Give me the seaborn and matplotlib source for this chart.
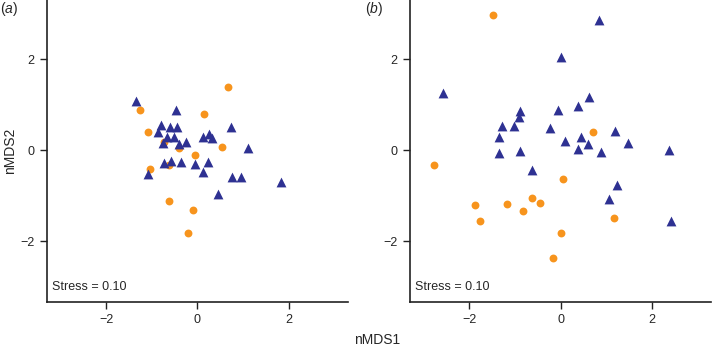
import pandas as pd
import matplotlib
matplotlib.use("Agg")
import matplotlib.pyplot as plt
import seaborn as sns

# --- Panel (a) site scores ---
a_tri_x = [-1.35, -0.47, -0.79, -0.60, -0.44, -0.87, -0.67, -0.52, -0.76, -0.41,
           -0.25, 0.12, 0.26, 0.32, 0.73, 1.10, -1.07, -0.73, -0.57, -0.36,
           -0.06, 0.23, 0.12, 0.75, 0.95, 0.45, 1.83]
a_tri_y = [1.07, 0.89, 0.56, 0.50, 0.50, 0.40, 0.30, 0.29, 0.15, 0.13,
           0.17, 0.30, 0.35, 0.26, 0.52, 0.04, -0.52, -0.28, -0.24, -0.26,
           -0.31, -0.26, -0.48, -0.60, -0.60, -0.96, -0.69]
a_cir_x = [0.68, -1.26, 0.15, -1.07, -0.74, -0.41, 0.55, -0.04, -1.03, -0.61,
           -0.62, -0.10, -0.21]
a_cir_y = [1.39, 0.88, 0.80, 0.41, 0.18, 0.04, 0.06, -0.10, -0.41, -0.33,
           -1.11, -1.32, -1.82]

# --- Panel (b) site scores ---
b_tri_x = [0.85, 0.00, -2.58, 0.62, 0.39, -0.05, -0.88, -0.92, -1.28, -1.03,
           -0.23, -1.36, 1.20, 0.44, 0.09, 0.61, 1.48, 0.39, 0.88, -1.35,
           -0.88, 2.38, -0.63, 1.23, 1.05, 2.42]
b_tri_y = [2.86, 2.04, 1.25, 1.16, 0.96, 0.89, 0.85, 0.73, 0.53, 0.54,
           0.48, 0.30, 0.43, 0.29, 0.21, 0.14, 0.15, 0.02, -0.04, -0.06,
           -0.01, 0.01, -0.44, -0.76, -1.08, -1.55]
b_cir_x = [-1.49, 0.71, -2.77, 0.05, -0.63, -1.87, -1.17, -0.45, -0.82, -1.76,
           1.18, 0.00, -0.17]
b_cir_y = [2.97, 0.40, -0.33, -0.64, -1.06, -1.21, -1.19, -1.17, -1.33, -1.56,
           -1.48, -1.81, -2.37]

stress = ["Stress = 0.10", "Stress = 0.10"]
panel_labels = ["(${a}$)", "(${b}$)"]
ticks = [-2, 0, 2]


def make_df(tx, ty, cx, cy):
    d1 = pd.DataFrame({"nMDS1": tx, "nMDS2": ty, "group": "tri"})
    d2 = pd.DataFrame({"nMDS1": cx, "nMDS2": cy, "group": "cir"})
    return pd.concat([d2, d1], ignore_index=True)


frames = [make_df(a_tri_x, a_tri_y, a_cir_x, a_cir_y),
          make_df(b_tri_x, b_tri_y, b_cir_x, b_cir_y)]

sns.set_style("ticks")
plt.rcParams["font.family"] = ["Liberation Sans", "DejaVu Sans"]
plt.rcParams["mathtext.fontset"] = "custom"
plt.rcParams["mathtext.it"] = "Liberation Sans:italic"
plt.rcParams["mathtext.rm"] = "Liberation Sans"

fig = plt.figure(figsize=(7.13, 3.49), dpi=100)
lefts = [0.0655, 0.575]
palette = {"tri": "#2e3192", "cir": "#f7941d"}
markers = {"tri": "^", "cir": "o"}

for i, df in enumerate(frames):
    ax = fig.add_axes([lefts[i], 0.1355, 0.4225, 0.8645])
    for g, s in [("cir", 32), ("tri", 50)]:
        sub = df[df["group"] == g]
        sns.scatterplot(data=sub, x="nMDS1", y="nMDS2", color=palette[g],
                        marker=markers[g], s=s, linewidth=0, ax=ax, legend=False)
    ax.set_xlim(-3.3, 3.3)
    ax.set_ylim(-3.33, 3.3)
    ax.set_xticks(ticks)
    ax.set_yticks(ticks)
    ax.set_xticklabels(["\u22122", "0", "2"])
    ax.set_yticklabels(["\u22122", "0", "2"])
    ax.tick_params(labelsize=9, length=5, width=1, pad=4, color="#222222")
    for sp in ["top", "right"]:
        ax.spines[sp].set_visible(False)
    for sp in ["left", "bottom"]:
        ax.spines[sp].set_linewidth(1.2)
        ax.spines[sp].set_color("#222222")
    ax.set_xlabel("")
    ax.set_ylabel("nMDS2" if i == 0 else "", fontsize=10, labelpad=2)
    ax.text(0.018, 0.03, stress[i], transform=ax.transAxes, fontsize=9,
            ha="left", va="bottom")

fig.text(0.0, 0.975, panel_labels[0], fontsize=10, ha="left", va="center")
fig.text(0.512, 0.975, panel_labels[1], fontsize=10, ha="left", va="center")
fig.text(0.529, 0.014, "nMDS1", fontsize=10, ha="center", va="baseline")

fig.savefig("out.png", dpi=100)
